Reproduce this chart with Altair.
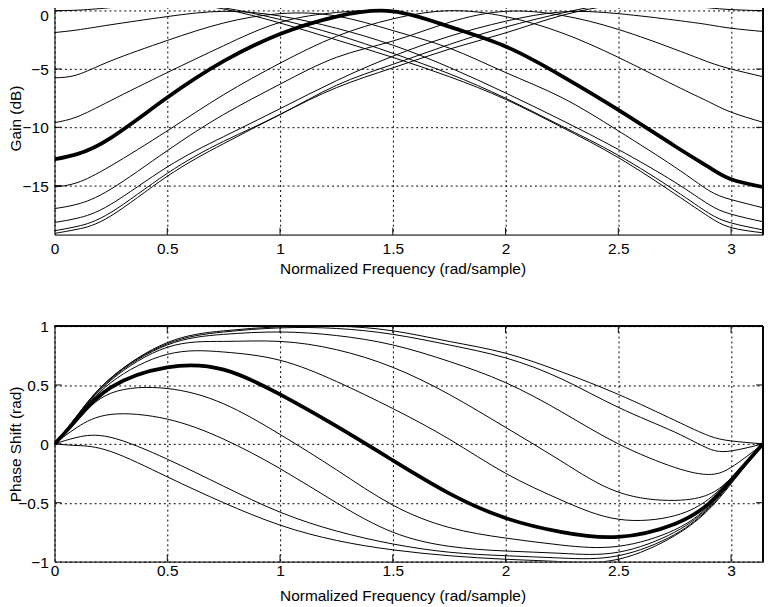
import math
import altair as alt
import pandas as pd

# ---------------- data ----------------
FREQ = [0.0, 0.1, 0.25, 0.5, 0.75, 1.0, 1.25, 1.5, 1.75, 2.0, 2.25, 2.5, 2.75, 2.9, 3.0, math.pi]

# gain (dB) of the eleven responses, thin ones t1..t10 and the bold one
GAIN_T1 = [1.5, 1.48, 1.33, 0.85, 0.15, -1.05, -2.5, -4.0, -5.65, -7.6, -10.0, -12.6, -15.7, -17.65, -18.6, -19.05]
GAIN_T2 = [0.0, 0.05, 0.27, 0.62, 0.25, -0.75, -2.05, -3.65, -5.4, -7.5, -9.9, -12.4, -15.4, -17.35, -18.2, -18.8]
GAIN_T3 = [-1.87, -1.65, -1.2, -0.5, -0.05, -0.45, -1.5, -2.95, -4.85, -7.05, -9.4, -11.9, -14.7, -16.6, -17.45, -18.1]
GAIN_T4 = [-5.75, -5.5, -4.3, -2.55, -1.05, -0.25, -0.45, -1.7, -3.2, -5.3, -7.45, -10.3, -13.4, -15.4, -16.2, -16.9]
GAIN_T5 = [-9.6, -9.1, -7.7, -5.3, -3.0, -1.0, -0.15, -0.1, -1.36, -3.06, -5.6, -8.5, -11.6, -13.4, -14.45, -15.12]
GAIN_T6 = [-15.12, -14.75, -13.3, -10.3, -7.2, -4.5, -2.2, -0.7, 0.0, -0.5, -1.9, -4.0, -6.4, -7.8, -8.7, -9.57]
GAIN_T7 = [-16.97, -16.6, -15.3, -12.0, -8.9, -6.3, -4.0, -2.6, -1.0, -0.05, -0.4, -1.6, -3.3, -4.4, -5.0, -5.66]
GAIN_T8 = [-18.16, -17.8, -16.6, -13.4, -10.8, -8.4, -6.0, -3.9, -2.2, -0.9, -0.1, -0.25, -0.8, -1.2, -1.5, -1.78]
GAIN_T9 = [-18.87, -18.5, -17.3, -13.95, -11.2, -8.9, -6.4, -4.6, -2.9, -1.4, -0.2, 0.6, 0.5, 0.25, 0.1, 0.0]
GAIN_T10 = [-19.1, -18.75, -17.6, -14.2, -11.4, -8.9, -6.6, -4.9, -3.3, -1.9, -0.4, 0.55, 1.1, 1.35, 1.45, 1.5]
GAIN_BOLD = [-12.74, -12.3, -10.9, -7.45, -4.33, -2.0, -0.5, -0.05, -1.36, -3.06, -5.6, -8.5, -11.6, -13.4, -14.45, -15.12]

# phase shift (rad)
PHASE_R1 = [0, 0.24, 0.56, 0.86, 0.96, 0.995, 1.0, 0.96, 0.87, 0.77, 0.61, 0.42, 0.20, 0.07, 0.025, 0]
PHASE_R2 = [0, 0.24, 0.56, 0.85, 0.95, 0.985, 0.98, 0.93, 0.84, 0.73, 0.55, 0.31, 0.10, -0.04, -0.06, 0]
PHASE_R3 = [0, 0.23, 0.55, 0.84, 0.93, 0.95, 0.92, 0.84, 0.70, 0.52, 0.27, 0.0, -0.20, -0.26, -0.20, 0]
PHASE_R4 = [0, 0.23, 0.54, 0.82, 0.87, 0.87, 0.80, 0.65, 0.42, 0.14, -0.15, -0.41, -0.48, -0.43, -0.29, 0]
PHASE_R5 = [0, 0.22, 0.52, 0.76, 0.78, 0.71, 0.53, 0.30, 0.04, -0.25, -0.48, -0.64, -0.61, -0.47, -0.29, 0]
PHASE_BOLD = [0, 0.21, 0.48, 0.65, 0.63, 0.42, 0.15, -0.14, -0.42, -0.63, -0.75, -0.79, -0.68, -0.51, -0.31, 0]
PHASE_R7 = [0, 0.20, 0.43, 0.47, 0.34, 0.08, -0.22, -0.52, -0.71, -0.80, -0.86, -0.87, -0.73, -0.53, -0.31, 0]
PHASE_R8 = [0, 0.14, 0.25, 0.21, 0.04, -0.21, -0.50, -0.75, -0.87, -0.91, -0.93, -0.92, -0.75, -0.54, -0.32, 0]
PHASE_R9 = [0, 0.055, 0.055, -0.13, -0.36, -0.58, -0.74, -0.85, -0.92, -0.95, -0.97, -0.95, -0.77, -0.55, -0.33, 0]
PHASE_R10 = [0, -0.014, -0.065, -0.28, -0.50, -0.69, -0.82, -0.90, -0.95, -0.98, -1.0, -0.98, -0.78, -0.56, -0.34, 0]

X_TICKS = [0.5, 1.0, 1.5, 2.0, 2.5, 3.0]
X_LABELS = [0, 0.5, 1, 1.5, 2, 2.5, 3]
GAIN_TICKS = [0, -5, -10, -15]
PHASE_TICKS = [-0.5, 0, 0.5]
PHASE_LABELS = [-1, -0.5, 0, 0.5, 1]

GAIN = {"t1": GAIN_T1, "t2": GAIN_T2, "t3": GAIN_T3, "t4": GAIN_T4, "t5": GAIN_T5,
        "t6": GAIN_T6, "t7": GAIN_T7, "t8": GAIN_T8, "t9": GAIN_T9, "t10": GAIN_T10,
        "bold": GAIN_BOLD}
PHASE = {"r1": PHASE_R1, "r2": PHASE_R2, "r3": PHASE_R3, "r4": PHASE_R4, "r5": PHASE_R5,
         "bold": PHASE_BOLD, "r7": PHASE_R7, "r8": PHASE_R8, "r9": PHASE_R9, "r10": PHASE_R10}

# ---------------- styling ----------------
FONT = "Liberation Sans"
FS = 15.6
W = 716
H_TOP = 230.5
H_BOT = 238
GAIN_DOMAIN = [-19.2, 0.365]
PHASE_DOMAIN = [-1, 1]
X_DOMAIN = [0, math.pi]
TICK = 7


def table(curves):
    rows = []
    for name, vals in curves.items():
        for f, v in zip(FREQ, vals):
            rows.append({"curve": name, "w": f, "v": v})
    return pd.DataFrame(rows)


def panel(curves, ydomain, yvalues, ylabels, h, ytitle, y_title_y, x_label_pad, top_border, label_offset):
    df = table(curves)
    xscale = alt.Scale(domain=X_DOMAIN, nice=False, zero=False)
    yscale = alt.Scale(domain=ydomain, nice=False, zero=False)
    xaxis = alt.Axis(values=X_LABELS, format="~g", grid=True, gridDash=[2, 3],
                     gridColor="black", gridOpacity=1, gridWidth=1,
                     domain=True, domainColor="black", domainWidth=1,
                     ticks=False, tickSize=0, labelFont=FONT, labelFontSize=FS,
                     labelColor="black", labelPadding=x_label_pad, labelBaseline="alphabetic",
                     labelFlush=False, labelOverlap=False,
                     title="Normalized Frequency (rad/sample)", titleFont=FONT, titleFontSize=FS,
                     titleFontWeight="normal", titleColor="black", titleBaseline="alphabetic",
                     titleAlign="center", titleX=351.7, titleY=38.9)
    yaxis = alt.Axis(values=ylabels, format="~g", grid=True, gridDash=[2, 3],
                     gridColor="black", gridOpacity=1, gridWidth=1,
                     domain=True, domainColor="black", domainWidth=1,
                     ticks=False, tickSize=0, labelFont=FONT, labelFontSize=FS,
                     labelColor="black", labelPadding=6.3, labelBaseline="alphabetic",
                     labelOffset=label_offset, labelAlign="right", labelFlush=False, labelOverlap=False,
                     title=ytitle, titleFont=FONT, titleFontSize=FS, titleFontWeight="normal",
                     titleColor="black", titleBaseline="alphabetic", titleAlign="center",
                     titleAngle=270, titleX=-34, titleY=y_title_y)
    base = alt.Chart(df)
    thin = base.transform_filter(alt.datum.curve != "bold").mark_line(
        color="black", strokeWidth=1, interpolate="natural", clip=True
    ).encode(x=alt.X("w:Q", scale=xscale, axis=xaxis),
             y=alt.Y("v:Q", scale=yscale, axis=yaxis),
             detail="curve:N")
    bold = base.transform_filter(alt.datum.curve == "bold").mark_line(
        color="black", strokeWidth=3.8, interpolate="natural", clip=True
    ).encode(x=alt.X("w:Q", scale=xscale, axis=xaxis),
             y=alt.Y("v:Q", scale=yscale, axis=yaxis))

    xt = pd.DataFrame({"w": X_TICKS})
    yt = pd.DataFrame({"v": yvalues})
    layers = [thin, bold]
    layers.append(alt.Chart(xt).mark_rule(color="black", strokeWidth=1).encode(
        x=alt.X("w:Q", scale=xscale, axis=xaxis), y=alt.value(h), y2=alt.value(h - TICK)))
    layers.append(alt.Chart(yt).mark_rule(color="black", strokeWidth=1).encode(
        y=alt.Y("v:Q", scale=yscale, axis=yaxis), x=alt.value(0), x2=alt.value(TICK)))
    layers.append(alt.Chart(yt).mark_rule(color="black", strokeWidth=1).encode(
        y=alt.Y("v:Q", scale=yscale, axis=yaxis), x=alt.value(W - TICK), x2=alt.value(W)))
    layers.append(alt.Chart(xt).mark_rule(color="black", strokeWidth=1).encode(
        x=alt.value(W), y=alt.value(0), y2=alt.value(h)))
    if top_border:
        layers.append(alt.Chart(xt).mark_rule(color="black", strokeWidth=1).encode(
            x=alt.X("w:Q", scale=xscale, axis=xaxis), y=alt.value(0), y2=alt.value(TICK)))
        layers.append(alt.Chart(xt).mark_rule(color="black", strokeWidth=1).encode(
            x=alt.value(0), x2=alt.value(W), y=alt.value(0)))
    return alt.layer(*layers).properties(width=W, height=h)


top = panel(GAIN, GAIN_DOMAIN, GAIN_TICKS, GAIN_TICKS, H_TOP, "Gain (dB)", 112.7, 18.9, False,
            {"condition": {"test": "datum.value === 0", "value": 9.9}, "value": 5.6})
bottom = panel(PHASE, PHASE_DOMAIN, PHASE_TICKS, PHASE_LABELS, H_BOT, "Phase Shift (rad)", 119, 13.9, True, 5.6)

chart = alt.vconcat(top, bottom, spacing=92, bounds="flush").properties(
    padding={"left": 0, "top": -5.7, "right": 0, "bottom": 0}
).configure_view(stroke=None).configure(background="white")

chart.save("out.html", embed_options={"renderer": "svg", "actions": False})
